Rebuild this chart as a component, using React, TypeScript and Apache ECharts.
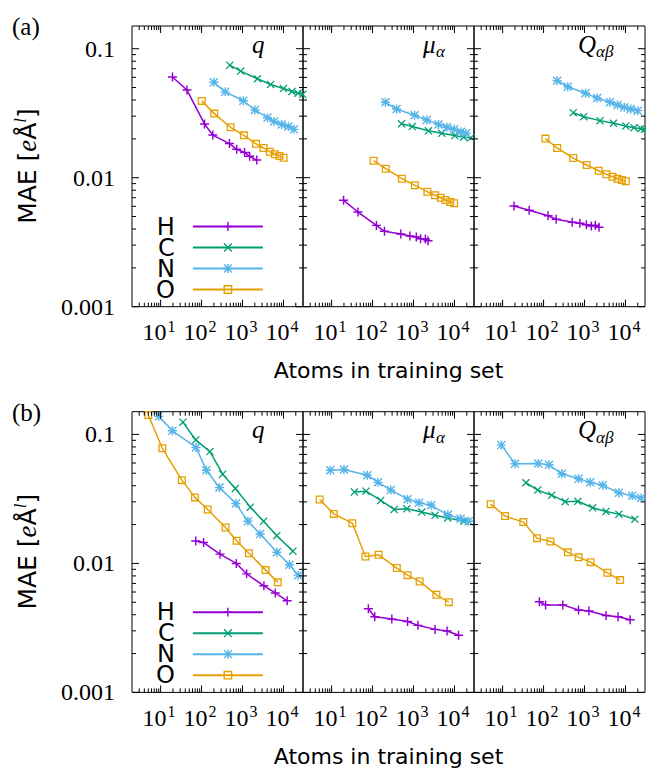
import React, { useEffect, useRef } from "react";
import * as echarts from "echarts";

// ---------- data ----------
const elements = ["H", "C", "N", "O"];
const elementColors = ["#9400d3", "#009e73", "#56b4e9", "#e69f00"];

// row (a), panel q
const aQ_H = [[19.5,0.0604],[44,0.0478],[118,0.0261],[188,0.0214],[480,0.0184],[720,0.0166],[1120,0.0157],[1490,0.01465],[2230,0.0137]];
const aQ_C = [[490,0.0745],[900,0.0671],[2310,0.0585],[4850,0.0528],[10000,0.0491],[16100,0.0466],[22600,0.0451],[29500,0.0443]];
const aQ_N = [[200,0.0549],[378,0.0463],[1050,0.0395],[2000,0.0335],[4070,0.0292],[5900,0.0273],[9000,0.0259],[13200,0.0249],[18000,0.0237]];
const aQ_O = [[101,0.0394],[204,0.0314],[510,0.0246],[1080,0.0213],[2140,0.0183],[3260,0.017],[4630,0.0159],[6150,0.0152],[7950,0.0147],[10100,0.0143]];
// row (a), panel mu
const aMu_H = [[19.6,0.00668],[44,0.00542],[124,0.00427],[195,0.00384],[490,0.00366],[815,0.00353],[1170,0.00347],[1490,0.00336],[1950,0.00335],[2260,0.00325]];
const aMu_C = [[510,0.0262],[930,0.0249],[2310,0.0231],[4900,0.0221],[10200,0.0212],[16700,0.0206],[25000,0.0204]];
const aMu_N = [[206,0.0384],[385,0.0341],[1060,0.0305],[2100,0.028],[4070,0.0259],[6500,0.0246],[9840,0.0237],[14400,0.0227],[19100,0.0221]];
const aMu_O = [[106,0.01355],[210,0.01175],[519,0.00983],[1080,0.00873],[2180,0.00779],[3360,0.00731],[4630,0.007],[6030,0.00672],[7830,0.00648],[9830,0.00633]];
// row (a), panel Q
const aQab_H = [[19,0.00604],[44.5,0.00559],[129,0.00507],[203,0.00476],[500,0.00451],[770,0.00443],[1110,0.00432],[1470,0.00422],[1840,0.00428],[2260,0.00413]];
const aQab_C = [[530,0.0319],[960,0.0297],[2390,0.0277],[5100,0.0264],[10200,0.0252],[16200,0.0244],[23900,0.024],[29000,0.0237]];
const aQab_N = [[215,0.0565],[390,0.0507],[1060,0.0451],[2040,0.0415],[4170,0.0384],[6400,0.0366],[9330,0.0351],[13500,0.0341],[20000,0.0331]];
const aQab_O = [[111,0.0201],[215,0.017],[531,0.0142],[1130,0.01254],[2220,0.01132],[3430,0.01062],[4820,0.01018],[6400,0.00983],[8170,0.0096],[10200,0.00938]];

// row (b), panel q
const bQ_H = [[72,0.0149],[112,0.01452],[282,0.0118],[705,0.01],[1260,0.0083],[3330,0.0067],[6300,0.0059],[12300,0.00513]];
const bQ_C = [[35,0.1245],[72,0.0906],[160,0.0736],[328,0.0492],[670,0.0381],[1550,0.0273],[3270,0.0212],[6890,0.0164],[17000,0.01245]];
const bQ_N = [[9,0.138],[19.4,0.1066],[73,0.0793],[131,0.0528],[274,0.0387],[689,0.0291],[1360,0.0212],[2700,0.0169],[6960,0.0122],[14000,0.00975],[22800,0.00811]];
const bQ_O = [[5,0.1416],[11,0.078],[33,0.0442],[69,0.0325],[141,0.0262],[385,0.019],[716,0.015],[1430,0.012],[3660,0.00887],[7280,0.00713]];
// row (b), panel mu
const bMu_H = [[79,0.00445],[113,0.00386],[295,0.0037],[716,0.00355],[1280,0.00331],[3360,0.00308],[6600,0.00299],[12600,0.00277]];
const bMu_C = [[36,0.0357],[69,0.0363],[158,0.0308],[337,0.0262],[688,0.0265],[1590,0.025],[3360,0.0236],[6890,0.0225],[17000,0.0212]];
const bMu_N = [[9.3,0.0528],[20,0.0535],[74,0.0483],[136,0.0425],[279,0.037],[716,0.0315],[1360,0.0295],[2680,0.0282],[6890,0.0238],[14100,0.0222],[22200,0.0212]];
const bMu_O = [[5.1,0.0313],[11.3,0.0242],[32,0.0205],[67,0.01132],[141,0.01166],[391,0.0092],[716,0.00811],[1410,0.00725],[3630,0.00571],[7280,0.00501]];
// row (b), panel Q
const bQab_H = [[79,0.00504],[112,0.00477],[295,0.00477],[716,0.00435],[1280,0.00427],[3360,0.00395],[6600,0.00386],[13000,0.00366]];
const bQab_C = [[37,0.0422],[72,0.037],[158,0.0338],[337,0.0301],[688,0.0303],[1580,0.027],[3360,0.0253],[6890,0.0241],[17000,0.022]];
const bQab_N = [[9.3,0.0826],[20,0.0592],[74,0.0596],[136,0.0581],[279,0.0495],[716,0.0453],[1380,0.0425],[2790,0.0403],[6900,0.0353],[14600,0.0334],[24000,0.0321]];
const bQab_O = [[5.1,0.0288],[11.5,0.0233],[32,0.0209],[69,0.0157],[147,0.0148],[391,0.01218],[716,0.01114],[1410,0.01023],[3630,0.00846],[7400,0.00742]];

const rowLabels = ["(a)", "(b)"];
const panelTitleMain = ["q", "μ", "Q"];
const panelTitleSub = ["", "α", "αβ"];

const xMajorTicks = [10, 100, 1000, 10000];
const xTickExponents = ["1", "2", "3", "4"];
const xMinorTicks = [3,4,5,6,7,8,9,20,30,40,50,60,70,80,90,200,300,400,500,600,700,800,900,2000,3000,4000,5000,6000,7000,8000,9000,20000];
const yMajorTicks = [0.001, 0.01, 0.1];
const yTickLabels = ["0.001", "0.01", "0.1"];
const yMinorTicks = [0.002,0.003,0.004,0.005,0.006,0.007,0.008,0.009,0.02,0.03,0.04,0.05,0.06,0.07,0.08,0.09];

const xTitle = "Atoms in training set";

// ---------- layout ----------
const X_MIN = 2, X_MAX = 30000, Y_MIN = 0.001, Y_MAX = 0.15;
const GRID_LEFTS = [132, 303, 474];
const GRID_W = 171;
const ROW_TOPS = [26, 411.7];
const GRID_H = 280.7;
const ROW_SHIFT = ROW_TOPS[1] - ROW_TOPS[0];

const SERIF = '"Liberation Serif", "DejaVu Serif", serif';
const SANS = '"DejaVu Sans", sans-serif';

const SYMBOLS = [
  "path://M4.2,0H5.8V4.2H10V5.8H5.8V10H4.2V5.8H0V4.2H4.2Z",
  "path://M0,1.1L1.1,0L10,8.9L8.9,10Z M8.9,0L10,1.1L1.1,10L0,8.9Z",
  "path://M4.2,0H5.8V4.2H10V5.8H5.8V10H4.2V5.8H0V4.2H4.2Z M0,1.1L1.1,0L10,8.9L8.9,10Z M8.9,0L10,1.1L1.1,10L0,8.9Z",
  "path://M0,0H10V10H0Z M1.6,1.6V8.4H8.4V1.6Z",
];
const SYMBOL_SIZES = [9, 8, 9, 8];

const panelData = [
  [
    [aQ_H, aQ_C, aQ_N, aQ_O],
    [aMu_H, aMu_C, aMu_N, aMu_O],
    [aQab_H, aQab_C, aQab_N, aQab_O],
  ],
  [
    [bQ_H, bQ_C, bQ_N, bQ_O],
    [bMu_H, bMu_C, bMu_N, bMu_O],
    [bQab_H, bQab_C, bQab_N, bQab_O],
  ],
];

function makeTickData() {
  const d: any[] = [];
  xMinorTicks.forEach((v) => d.push([v, 0.01, 0, -1]));
  xMajorTicks.forEach((v, i) => d.push([v, 0.01, 1, i]));
  yMinorTicks.forEach((v) => d.push([10, v, 2, -1]));
  yMajorTicks.forEach((v, i) => d.push([10, v, 3, i]));
  return d;
}

function makeTickRenderer(showYLabels: boolean) {
  return (params: any, api: any) => {
    const kind = api.value(2);
    const idx = api.value(3);
    const cs = params.coordSys;
    const left = cs.x, top = cs.y, right = cs.x + cs.width, bottom = cs.y + cs.height;
    const ls = { stroke: "#000", lineWidth: 1 };
    const children: any[] = [];
    if (kind < 2) {
      const px = api.coord([api.value(0), 0.01])[0];
      const len = kind === 1 ? 7 : 4;
      children.push({ type: "line", shape: { x1: px, y1: bottom, x2: px, y2: bottom - len }, style: ls });
      children.push({ type: "line", shape: { x1: px, y1: top, x2: px, y2: top + len }, style: ls });
      if (kind === 1) {
        children.push({
          type: "text",
          style: { text: "10", x: px + 6, y: bottom + 25.5, align: "right", verticalAlign: "middle", font: "24px " + SERIF, fill: "#000" },
        });
        children.push({
          type: "text",
          style: { text: xTickExponents[idx], x: px + 7, y: bottom + 19.5, align: "left", verticalAlign: "middle", font: "16px " + SERIF, fill: "#000" },
        });
      }
    } else {
      const py = api.coord([10, api.value(1)])[1];
      const len = kind === 3 ? 7 : 4;
      children.push({ type: "line", shape: { x1: left, y1: py, x2: left + len, y2: py }, style: ls });
      children.push({ type: "line", shape: { x1: right, y1: py, x2: right - len, y2: py }, style: ls });
      if (kind === 3 && showYLabels) {
        children.push({
          type: "text",
          style: { text: yTickLabels[idx], x: left - 17, y: py, align: "right", verticalAlign: "middle", font: "24px " + SERIF, fill: "#000" },
        });
      }
    }
    return { type: "group", children };
  };
}

function buildOption() {
  const grids: any[] = [];
  const xAxes: any[] = [];
  const yAxes: any[] = [];
  const series: any[] = [];
  const tickData = makeTickData();
  for (let r = 0; r < 2; r++) {
    for (let c = 0; c < 3; c++) {
      const gi = r * 3 + c;
      grids.push({
        left: GRID_LEFTS[c], top: ROW_TOPS[r], width: GRID_W, height: GRID_H,
        show: true, borderColor: "#000", borderWidth: 1, backgroundColor: "transparent",
        containLabel: false,
      });
      xAxes.push({
        type: "log", logBase: 10, gridIndex: gi, min: X_MIN, max: X_MAX,
        axisLine: { show: false }, axisTick: { show: false }, axisLabel: { show: false }, splitLine: { show: false },
      });
      yAxes.push({
        type: "log", logBase: 10, gridIndex: gi, min: Y_MIN, max: Y_MAX,
        axisLine: { show: false }, axisTick: { show: false }, axisLabel: { show: false }, splitLine: { show: false },
      });
      elements.forEach((e, k) => {
        series.push({
          type: "line", name: e, xAxisIndex: gi, yAxisIndex: gi,
          data: panelData[r][c][k],
          symbol: SYMBOLS[k], symbolSize: SYMBOL_SIZES[k], showSymbol: true,
          lineStyle: { width: 1.5, color: elementColors[k] },
          itemStyle: { color: elementColors[k] },
          emphasis: { disabled: true },
          clip: true,
          z: 3,
        });
      });
      series.push({
        type: "custom", xAxisIndex: gi, yAxisIndex: gi, data: tickData,
        renderItem: makeTickRenderer(c === 0), clip: false, silent: true, z: 5,
      });
    }
  }

  const graphics: any[] = [];
  for (let r = 0; r < 2; r++) {
    const dy = r * ROW_SHIFT;
    graphics.push({
      type: "text", left: 12, top: 14 + dy,
      style: { text: rowLabels[r], font: "25px " + SERIF, fill: "#000" },
    });
    // y-axis title
    graphics.push({
      type: "text", x: 27, y: 166 + dy, rotation: Math.PI / 2,
      style: {
        text: "{a|MAE [}{e|e}{a|Å}{s|l}{a|]}",
        align: "center", verticalAlign: "middle", fill: "#000",
        rich: {
          a: { fontFamily: "DejaVu Sans", fontSize: 25, lineHeight: 30 },
          e: { fontFamily: "Liberation Serif", fontStyle: "italic", fontSize: 27, lineHeight: 30 },
          s: { fontFamily: "Liberation Serif", fontStyle: "italic", fontSize: 17, lineHeight: 17, verticalAlign: "top" },
        },
      },
    });
    // x-axis title
    graphics.push({
      type: "text", x: 388.5, y: 370.5 + dy,
      style: { text: xTitle, font: "22px " + SANS, fill: "#000", align: "center", verticalAlign: "middle" },
    });
    // panel titles
    const mainX = [252, 423, 578];
    const subX = [0, 436, 596];
    for (let c = 0; c < 3; c++) {
      graphics.push({
        type: "text", x: mainX[c], y: 44 + dy,
        style: { text: panelTitleMain[c], font: "italic 25px " + SERIF, fill: "#000", align: "left", verticalAlign: "middle" },
      });
      if (panelTitleSub[c]) {
        graphics.push({
          type: "text", x: subX[c], y: 51.5 + dy,
          style: { text: panelTitleSub[c], font: "italic 17px " + SERIF, fill: "#000", align: "left", verticalAlign: "middle" },
        });
      }
    }
  }

  const legends = [0, 1].map((r) => ({
    data: elements,
    orient: "vertical",
    align: "right",
    left: 156,
    top: 214.5 + r * ROW_SHIFT,
    itemWidth: 70,
    itemHeight: 11,
    itemGap: -3,
    padding: 0,
    selectedMode: false,
    textStyle: { fontFamily: "DejaVu Sans", fontSize: 24, lineHeight: 21, color: "#000", padding: [0, 13, 0, 0] },
  }));

  return {
    animation: false,
    backgroundColor: "#fff",
    grid: grids,
    xAxis: xAxes,
    yAxis: yAxes,
    legend: legends,
    series,
    graphic: graphics,
  };
}

export default function App() {
  const ref = useRef<HTMLDivElement>(null);
  useEffect(() => {
    if (!ref.current) return;
    const chart = echarts.init(ref.current, undefined, { renderer: "svg" });
    chart.setOption(buildOption() as any);
    return () => chart.dispose();
  }, []);
  return <div ref={ref} style={{ position: "absolute", left: 0, top: 0, width: 646, height: 768 }} />;
}
